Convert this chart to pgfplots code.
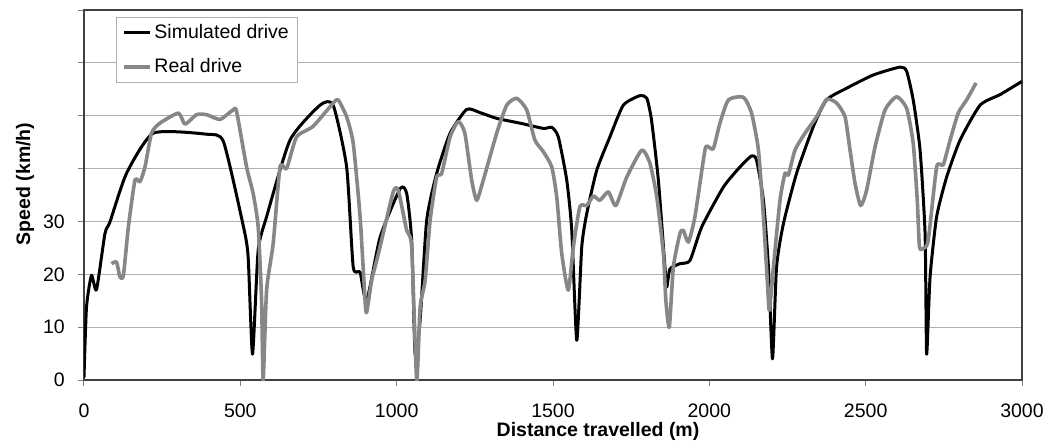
\documentclass[border=0pt]{standalone}
\usepackage{pgfplots}
\pgfplotsset{compat=1.18}
\usepackage{fontspec}
\setmainfont{Liberation Sans}
\definecolor{realgray}{RGB}{135,135,135}
\definecolor{gridgray}{RGB}{175,175,175}

\begin{document}
\fontsize{19.5}{23}\selectfont
\begin{tikzpicture}
\useasboundingbox (-84pt,-60pt) rectangle (977pt,380pt);
\begin{axis}[
  at={(0,0)}, anchor=south west,
  width=938pt, height=370pt, scale only axis,
  xmin=0, xmax=3000, ymin=0, ymax=70,
  xtick={0,500,1000,1500,2000,2500,3000},
  ytick={0,10,20,30,40,50,60,70},
  yticklabels={0,10,20,30,,,,},
  /pgf/number format/assume math mode=true,
  /pgf/number format/set thousands separator={},
  ymajorgrids=true,
  grid style={gridgray, line width=1pt},
  axis line style={black!75, line width=1.2pt},
  tick style={black!50, line width=1pt},
  tick align=outside, major tick length=6pt,
  xtick pos=bottom, ytick pos=left,
  ticklabel style={font=\fontsize{19.5}{23}\selectfont},
  xticklabel style={anchor=base, yshift=-31pt},
  yticklabel style={anchor=east, inner sep=0pt, xshift=-13pt},
  xlabel={\textbf{Distance travelled (m)}},
  ylabel={\textbf{Speed (km/h)}},
  xlabel style={font=\fontsize{19.5}{23}\selectfont, at={(axis description cs:0.548,0)}, anchor=base, yshift=-56.5pt},
  ylabel style={font=\fontsize{19.5}{23}\selectfont, at={(axis description cs:0,0.53)}, anchor=center, yshift=59pt},
  legend style={at={(0.0341,0.981)}, anchor=north west, draw=gridgray, line width=0.8pt,
    font=\fontsize{19.5}{23}\selectfont, row sep=13pt, inner xsep=6pt, inner ysep=5pt,
    nodes={inner xsep=2.5pt}, legend cell align=left},
  legend image code/.code={\draw[#1] (0pt,0pt) -- (26pt,0pt);},
]
% simulated drive
\addplot[black, line width=3pt, line join=round, smooth, tension=0.35] coordinates {
(0,0.5) (8,13.8) (24,19.8) (40,17.1) (67,27.7) (83,29.9) (136,39.1)
(222,46.7) (392,46.5) (446,45.1) (510,29) (525,23.3) (539,4.9)
(557,24.5) (584,30.9) (659,45.4) (755,52) (797,52) (840,40.3)
(861,21.4) (883,20.4) (904,15) (947,27) (1011,36.2) (1032,35.3)
(1048,26.4) (1059,4.9) (1075,11.3) (1096,30.2) (1128,39.1) (1171,46.7)
(1224,51.2) (1266,50.6) (1320,49.5) (1394,48.6) (1469,47.6) (1496,47.8)
(1517,46) (1544,37.8) (1560,28.3) (1576,7.5) (1592,25.2) (1608,31.5)
(1640,39.7) (1682,46) (1725,52) (1778,53.8) (1800,53.3) (1815,49.2)
(1837,37.8) (1858,21.4) (1864,17.6) (1874,21) (1906,22) (1938,22.6)
(1976,29) (2045,36.5) (2098,40.3) (2135,42.4) (2151,41.6) (2173,34)
(2189,21.4) (2202,4) (2215,21.4) (2237,29.6) (2279,39.1) (2333,48)
(2375,53) (2439,55.2) (2524,57.7) (2610,59.2) (2631,58.4) (2652,53)
(2674,43.5) (2690,27.7) (2695,4.9) (2706,19.5) (2727,30.9) (2759,38.4)
(2802,45.4) (2866,52) (2930,54) (3000,56.5)
};
\addlegendentry{Simulated drive}
% real drive
\addplot[realgray, line width=3.6pt, line join=round, smooth, tension=0.35] coordinates {
(88,22) (104,22.3) (115,19.5) (126,19.8) (142,29) (163,37.8) (179,37.5)
(195,40.3) (216,46.7) (243,48.6) (302,50.5) (323,48.4) (360,50.2)
(392,50.2) (435,49.3) (477,51.1) (488,50.8) (520,40.3) (541,35.3)
(557,29) (568,15) (573,0) (584,17) (605,25.8) (627,40.3) (648,40)
(680,46) (733,48) (797,52.4) (813,53) (840,49.8) (861,44.8) (883,30.9)
(899,15) (904,12.8) (920,18.8) (936,22.6) (950,26) (989,35.6) (1005,35.9)
(1032,28.3) (1048,25.2) (1064,0) (1075,13.8) (1091,18.8) (1107,30.2)
(1128,38.4) (1144,39.1) (1171,46) (1197,48.9) (1218,46.7) (1240,37.8)
(1256,34) (1277,37.8) (1320,46.7) (1352,52) (1384,53.3) (1416,51.1)
(1442,45.4) (1469,43.2) (1496,40.3) (1512,34.6) (1528,23.9) (1549,17)
(1565,25.2) (1586,32.8) (1608,33) (1629,34.8) (1650,34) (1677,35.6)
(1701,33) (1736,38.4) (1784,43.5) (1810,41) (1832,34.6) (1853,23.9)
(1861,15) (1872,10) (1885,21.4) (1906,27.7) (1917,28.3) (1933,26.1)
(1954,30.9) (1986,43.5) (1997,44.1) (2013,43.8) (2034,48.6) (2061,53)
(2109,53.5) (2135,50.5) (2157,43.5) (2173,30.9) (2186,18.2) (2192,13.2)
(2205,21.4) (2226,34) (2242,39.1) (2253,38.8) (2274,43.5) (2306,46.7)
(2343,49.8) (2375,53.1) (2407,52.4) (2434,49.8) (2450,43.5) (2466,37.2)
(2484,33) (2503,35.9) (2530,44.1) (2562,51.1) (2599,53.6) (2631,51.4)
(2652,44.8) (2665,34) (2672,25.2) (2684,24.9) (2700,26.4) (2727,40.3)
(2748,40.7) (2770,45.4) (2796,50.5) (2823,53) (2853,56.2)
};
\addlegendentry{Real drive}
\end{axis}
\end{tikzpicture}
\end{document}
